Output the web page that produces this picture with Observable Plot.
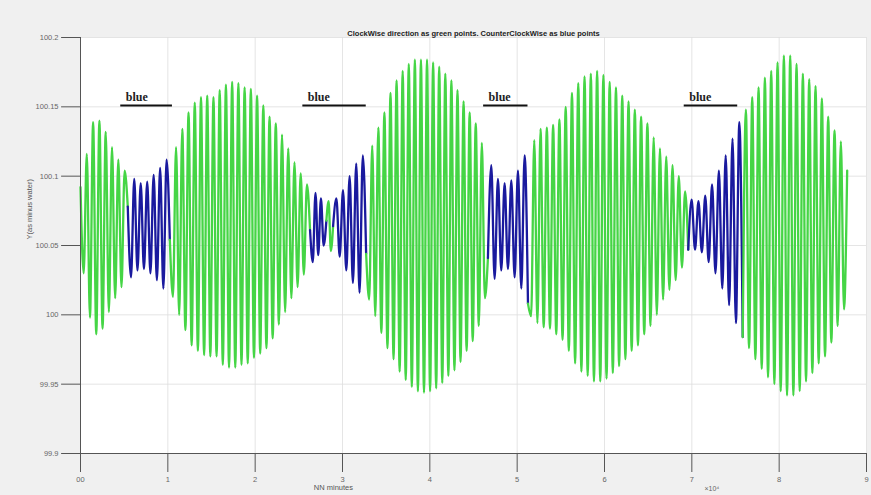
<!DOCTYPE html>
<html><head><meta charset="utf-8">
<script src="https://cdn.jsdelivr.net/npm/d3@7"></script>
<script src="https://cdn.jsdelivr.net/npm/@observablehq/plot@0.6"></script>
<style>
body{margin:0;background:#f0f0f0;}
</style></head><body><div id="chart"></div>
<script>
// ---- data (minutes, metres) ----
const titleText = "ClockWise direction as green points. CounterClockWise as blue points";
const xTicks = [0, 10000, 20000, 30000, 40000, 50000, 60000, 70000, 80000, 90000];
const xTickLabels = ["00", "1", "2", "3", "4", "5", "6", "7", "8", "9"];
const yTicks = [99.9, 99.95, 100, 100.05, 100.1, 100.15, 100.2];
const yTickLabels = ["99.9", "99.95", "100", "100.05", "100.1", "100.15", "100.2"];

// segment boundaries (minutes) and direction of each segment
const segBounds = [0, 5413, 10229, 26285, 28154, 28922, 32707, 46652, 51239, 69587, 75828, 87788];
const segDirection = ["cw", "ccw", "cw", "ccw", "cw", "ccw", "cw", "ccw", "cw", "ccw", "cw"];

// successive turning points of the water level inside each segment
const g1 = [100.092, 100.030, 100.116, 99.998, 100.139, 99.986, 100.140, 99.990, 100.132, 100.002, 100.121, 100.012, 100.112, 100.020, 100.104, 100.078];
const b1 = [100.078, 100.027, 100.098, 100.032, 100.095, 100.033, 100.096, 100.030, 100.101, 100.025, 100.106, 100.019, 100.112, 100.054];
const g2 = [100.054, 100.013, 100.121, 100.000, 100.134, 99.989, 100.146, 99.978, 100.153, 99.974, 100.157, 99.971, 100.158, 99.970, 100.157, 99.970, 100.162, 99.964, 100.166, 99.962, 100.168, 99.962, 100.167, 99.964, 100.164, 99.965, 100.163, 99.969, 100.158, 99.972, 100.151, 99.976, 100.143, 99.983, 100.138, 99.993, 100.130, 100.002, 100.120, 100.012, 100.110, 100.020, 100.102, 100.029, 100.094, 100.061];
const b2a = [100.061, 100.038, 100.088, 100.043, 100.084, 100.050, 100.068];
const gm = [100.068, 100.082, 100.046, 100.064];
const b2b = [100.064, 100.084, 100.042, 100.090, 100.032, 100.100, 100.023, 100.109, 100.016, 100.115, 100.044];
const g3 = [100.044, 100.011, 100.122, 99.999, 100.135, 99.987, 100.146, 99.976, 100.160, 99.968, 100.169, 99.959, 100.176, 99.953, 100.181, 99.948, 100.184, 99.945, 100.184, 99.944, 100.184, 99.945, 100.182, 99.947, 100.179, 99.951, 100.174, 99.956, 100.169, 99.960, 100.162, 99.966, 100.154, 99.974, 100.146, 99.981, 100.138, 99.992, 100.124, 100.012, 100.041];
const b3 = [100.041, 100.108, 100.026, 100.098, 100.032, 100.095, 100.033, 100.097, 100.027, 100.104, 100.019, 100.115, 100.008];
const g4 = [100.008, 99.999, 100.126, 99.994, 100.134, 99.991, 100.135, 99.990, 100.137, 99.986, 100.141, 99.982, 100.150, 99.974, 100.160, 99.965, 100.167, 99.959, 100.172, 99.956, 100.174, 99.952, 100.176, 99.952, 100.173, 99.954, 100.168, 99.958, 100.164, 99.963, 100.158, 99.968, 100.154, 99.974, 100.148, 99.978, 100.143, 99.986, 100.138, 99.992, 100.128, 100.000, 100.120, 100.011, 100.114, 100.018, 100.108, 100.025, 100.100, 100.034, 100.089, 100.047];
const b4 = [100.047, 100.083, 100.047, 100.082, 100.045, 100.086, 100.038, 100.094, 100.030, 100.104, 100.019, 100.115, 100.007, 100.127, 99.994, 100.139, 99.984];
const g5 = [99.984, 100.148, 99.976, 100.157, 99.968, 100.164, 99.961, 100.171, 99.955, 100.176, 99.950, 100.182, 99.945, 100.187, 99.942, 100.187, 99.942, 100.181, 99.945, 100.174, 99.952, 100.170, 99.958, 100.165, 99.965, 100.156, 99.970, 100.143, 99.980, 100.133, 99.992, 100.125, 100.004, 100.104];
const segments = [g1, b1, g2, b2a, gm, b2b, g3, b3, g4, b4, g5];

// "blue" annotations: start / end of the bar (minutes) and level (metres)
const blueStart = [4610, 25459, 46159, 69128];
const blueEnd = [10528, 32718, 51239, 75253];
const blueLevel = 100.151;
const blueText = "blue";

// ---- build table ----
const colorOf = {cw: "#45d545", ccw: "#1a1a9e"};
const rows = [];
segments.forEach((vals, i) => {
  const t0 = segBounds[i], t1 = segBounds[i + 1], n = vals.length;
  vals.forEach((v, j) => rows.push({t: t0 + j * (t1 - t0) / (n - 1), v, seg: i, color: colorOf[segDirection[i]]}));
});
const notes = blueStart.map((s, i) => ({start: s, end: blueEnd[i]}));

const W = 871, H = 495, mL = 80, mR = 5, mT = 37, mB = 42;
const xDomain = [0, 90000], yDomain = [99.9, 100.2];
const xMin = xDomain[0], yMin = yDomain[0];
const tickLen = 19;
const frameW = W - mL - mR;
const tickLenX = tickLen * (xDomain[1] - xDomain[0]) / frameW;
// left tick segments as two-point lines (tick index as series key)
const yTickSegs = yTicks.flatMap((y, k) => [{k, x: xMin - tickLenX, y}, {k, x: xMin, y}]);
const font = "'Liberation Sans', Arial, sans-serif";
const chart = Plot.plot({
  width: W, height: H,
  marginLeft: mL, marginRight: mR, marginTop: mT, marginBottom: mB,
  style: {background: "#f0f0f0", fontFamily: font, overflow: "visible", color: "#666"},
  x: {domain: xDomain},
  y: {domain: yDomain},
  color: {type: "identity"},
  marks: [
    Plot.frame({fill: "white", stroke: "none"}),
    Plot.gridX(xTicks, {stroke: "#dedede", strokeOpacity: 1, strokeWidth: 0.8}),
    Plot.gridY(yTicks, {stroke: "#dedede", strokeOpacity: 1, strokeWidth: 0.8}),
    Plot.line(rows, {x: "t", y: "v", z: "seg", stroke: "color", strokeWidth: 2.3, curve: "monotone-x"}),
    Plot.ruleY(notes, {x1: "start", x2: "end", y: () => blueLevel, stroke: "#111", strokeWidth: 2}),
    Plot.text(notes, {x: "start", y: () => blueLevel, text: () => blueText, textAnchor: "start", lineAnchor: "bottom", dx: 5, dy: -4, fontFamily: "'Liberation Serif', 'DejaVu Serif', serif", fontWeight: "bold", fontSize: 12, fill: "#222"}),
    Plot.ruleX([xMin], {stroke: "#555", strokeWidth: 1}),
    Plot.ruleY([yMin], {stroke: "#555", strokeWidth: 1}),
    Plot.axisY(yTicks, {tickSize: 0, tickPadding: tickLen + 3, tickFormat: (d) => yTickLabels[yTicks.indexOf(d)], fontSize: 7.5, color: "#666", label: null}),
    Plot.axisX(xTicks, {tickSize: 0, tickPadding: tickLen + 4, tickFormat: (d) => xTickLabels[xTicks.indexOf(d)], fontSize: 7.5, color: "#666", label: null}),
    // outward tick marks, drawn last
    Plot.ruleX(xTicks, {x: (d) => d, y1: () => yMin, y2: () => yMin, insetBottom: -tickLen, stroke: "#555", strokeWidth: 1}),
    Plot.line(yTickSegs, {x: "x", y: "y", z: "k", stroke: "#555", strokeWidth: 1}),
    Plot.text([titleText], {frameAnchor: "top", lineAnchor: "bottom", dy: -2, fontWeight: "bold", fontSize: 7.5, fill: "#222"}),
    Plot.text(["Y(as minus water)"], {frameAnchor: "left", rotate: -90, dx: -51, dy: -6, fontSize: 7.5, fill: "#555"}),
    Plot.text(["NN minutes"], {x: () => 28960, frameAnchor: "bottom", lineAnchor: "middle", dy: 34, fontSize: 7.5, fill: "#555"}),
    Plot.text(["×10⁴"], {x: () => 72300, frameAnchor: "bottom", lineAnchor: "middle", dy: 35, fontSize: 7, fill: "#666"})
  ]
});
document.getElementById("chart").append(chart);
</script>
</body></html>
